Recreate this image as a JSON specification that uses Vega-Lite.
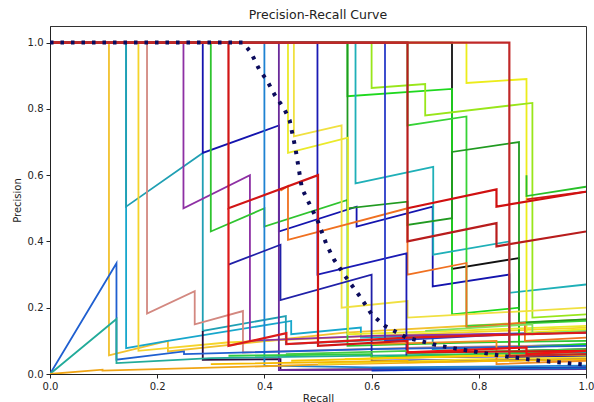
{
"$schema":"https://vega.github.io/schema/vega-lite/v6.json",
"width":536,"height":348,
"autosize":{"type":"none"},
"padding":{"left":50,"top":26,"right":8,"bottom":28},
"config":{"font":"DejaVu Sans","view":{"stroke":"#333","strokeWidth":1}},
"title":{"text":"Precision-Recall Curve","fontSize":12.5,"fontWeight":"normal","offset":5,"color":"#222"},
"data":{"values":[
{"s":"f01","i":0,"r":0,"p":1},{"s":"f01","i":1,"r":0.11,"p":1},{"s":"f01","i":2,"r":0.11,"p":0.056},{"s":"f01","i":3,"r":0.22,"p":0.1},{"s":"f01","i":4,"r":0.22,"p":0.068},{"s":"f01","i":5,"r":0.55,"p":0.125},{"s":"f01","i":6,"r":1,"p":0.165},
{"s":"f02","i":0,"r":0,"p":1},{"s":"f02","i":1,"r":0.142,"p":1},{"s":"f02","i":2,"r":0.142,"p":0.078},{"s":"f02","i":3,"r":0.22,"p":0.1},{"s":"f02","i":4,"r":0.45,"p":0.16},{"s":"f02","i":5,"r":0.45,"p":0.12},{"s":"f02","i":6,"r":0.58,"p":0.14},{"s":"f02","i":7,"r":0.58,"p":0.11},{"s":"f02","i":8,"r":1,"p":0.128},
{"s":"f03","i":0,"r":0,"p":1},{"s":"f03","i":1,"r":0.142,"p":1},{"s":"f03","i":2,"r":0.142,"p":0.505},{"s":"f03","i":3,"r":0.285,"p":0.667},{"s":"f03","i":4,"r":0.285,"p":0.13},{"s":"f03","i":5,"r":0.44,"p":0.175},{"s":"f03","i":6,"r":0.44,"p":0.09},{"s":"f03","i":7,"r":0.714,"p":0.11},{"s":"f03","i":8,"r":0.714,"p":0.075},{"s":"f03","i":9,"r":1,"p":0.09},
{"s":"f04","i":0,"r":0,"p":1},{"s":"f04","i":1,"r":0.165,"p":1},{"s":"f04","i":2,"r":0.165,"p":0.07},{"s":"f04","i":3,"r":0.33,"p":0.095},{"s":"f04","i":4,"r":0.6,"p":0.115},{"s":"f04","i":5,"r":1,"p":0.14},
{"s":"f05","i":0,"r":0,"p":1},{"s":"f05","i":1,"r":0.181,"p":1},{"s":"f05","i":2,"r":0.181,"p":0.182},{"s":"f05","i":3,"r":0.27,"p":0.25},{"s":"f05","i":4,"r":0.27,"p":0.15},{"s":"f05","i":5,"r":0.36,"p":0.19},{"s":"f05","i":6,"r":0.36,"p":0.065},{"s":"f05","i":7,"r":0.7,"p":0.08},{"s":"f05","i":8,"r":1,"p":0.088},
{"s":"f06","i":0,"r":0,"p":1},{"s":"f06","i":1,"r":0.249,"p":1},{"s":"f06","i":2,"r":0.249,"p":0.5},{"s":"f06","i":3,"r":0.373,"p":0.6},{"s":"f06","i":4,"r":0.373,"p":0.1},{"s":"f06","i":5,"r":0.6,"p":0.115},{"s":"f06","i":6,"r":1,"p":0.125},
{"s":"f07","i":0,"r":0.285,"p":0.13},{"s":"f07","i":1,"r":0.285,"p":0.043},{"s":"f07","i":2,"r":0.43,"p":0.045},{"s":"f07","i":3,"r":0.43,"p":0.012},{"s":"f07","i":4,"r":1,"p":0.02},
{"s":"f08","i":0,"r":0,"p":1},{"s":"f08","i":1,"r":0.285,"p":1},{"s":"f08","i":2,"r":0.285,"p":0.667},{"s":"f08","i":3,"r":0.427,"p":0.75},{"s":"f08","i":4,"r":0.427,"p":0.43},{"s":"f08","i":5,"r":0.572,"p":0.505},{"s":"f08","i":6,"r":0.572,"p":0.445},{"s":"f08","i":7,"r":0.714,"p":0.505},{"s":"f08","i":8,"r":0.714,"p":0.264},{"s":"f08","i":9,"r":0.857,"p":0.3},{"s":"f08","i":10,"r":0.857,"p":0.05},{"s":"f08","i":11,"r":1,"p":0.055},
{"s":"f09","i":0,"r":0,"p":1},{"s":"f09","i":1,"r":0.3,"p":1},{"s":"f09","i":2,"r":0.3,"p":0.43},{"s":"f09","i":3,"r":0.4,"p":0.5},{"s":"f09","i":4,"r":0.4,"p":0.445},{"s":"f09","i":5,"r":0.555,"p":0.525},{"s":"f09","i":6,"r":0.555,"p":0.085},{"s":"f09","i":7,"r":0.78,"p":0.095},{"s":"f09","i":8,"r":1,"p":0.1},
{"s":"f10","i":0,"r":0,"p":1},{"s":"f10","i":1,"r":0.75,"p":1},{"s":"f10","i":2,"r":0.75,"p":0.317},{"s":"f10","i":3,"r":0.875,"p":0.35},{"s":"f10","i":4,"r":0.875,"p":0.07},{"s":"f10","i":5,"r":1,"p":0.075},
{"s":"f11","i":0,"r":0,"p":1},{"s":"f11","i":1,"r":0.4,"p":1},{"s":"f11","i":2,"r":0.4,"p":0.025},{"s":"f11","i":3,"r":0.6,"p":0.02},{"s":"f11","i":4,"r":1,"p":0.025},
{"s":"f12","i":0,"r":0,"p":1},{"s":"f12","i":1,"r":0.427,"p":1},{"s":"f12","i":2,"r":0.427,"p":0.012},{"s":"f12","i":3,"r":1,"p":0.015},
{"s":"f18","i":0,"r":0,"p":1},{"s":"f18","i":1,"r":0.555,"p":1},{"s":"f18","i":2,"r":0.555,"p":0.838},{"s":"f18","i":3,"r":0.75,"p":0.86},{"s":"f18","i":4,"r":0.75,"p":0.18},{"s":"f18","i":5,"r":0.875,"p":0.2},{"s":"f18","i":6,"r":0.875,"p":0.08},{"s":"f18","i":7,"r":1,"p":0.09},
{"s":"f19","i":0,"r":0,"p":1},{"s":"f19","i":1,"r":0.57,"p":1},{"s":"f19","i":2,"r":0.57,"p":0.575},{"s":"f19","i":3,"r":0.715,"p":0.625},{"s":"f19","i":4,"r":0.715,"p":0.36},{"s":"f19","i":5,"r":0.857,"p":0.4},{"s":"f19","i":6,"r":0.857,"p":0.245},{"s":"f19","i":7,"r":1,"p":0.27},
{"s":"f20","i":0,"r":0,"p":1},{"s":"f20","i":1,"r":0.777,"p":1},{"s":"f20","i":2,"r":0.777,"p":0.878},{"s":"f20","i":3,"r":0.889,"p":0.89},{"s":"f20","i":4,"r":0.889,"p":0.125},{"s":"f20","i":5,"r":1,"p":0.135},
{"s":"f21","i":0,"r":0,"p":1},{"s":"f21","i":1,"r":0.6,"p":1},{"s":"f21","i":2,"r":0.6,"p":0.863},{"s":"f21","i":3,"r":0.7,"p":0.875},{"s":"f21","i":4,"r":0.7,"p":0.78},{"s":"f21","i":5,"r":0.9,"p":0.818},{"s":"f21","i":6,"r":0.9,"p":0.17},{"s":"f21","i":7,"r":1,"p":0.18},
{"s":"f22","i":0,"r":0,"p":1},{"s":"f22","i":1,"r":0.667,"p":1},{"s":"f22","i":2,"r":0.667,"p":0.75},{"s":"f22","i":3,"r":0.777,"p":0.777},{"s":"f22","i":4,"r":0.777,"p":0.145},{"s":"f22","i":5,"r":1,"p":0.16},
{"s":"f23","i":0,"r":0,"p":1},{"s":"f23","i":1,"r":0.555,"p":1},{"s":"f23","i":2,"r":0.555,"p":0.5},{"s":"f23","i":3,"r":0.667,"p":0.52},{"s":"f23","i":4,"r":0.667,"p":0.45},{"s":"f23","i":5,"r":0.75,"p":0.47},{"s":"f23","i":6,"r":0.75,"p":0.67},{"s":"f23","i":7,"r":0.875,"p":0.7},{"s":"f23","i":8,"r":0.875,"p":0.155},{"s":"f23","i":9,"r":1,"p":0.165},
{"s":"f24","i":0,"r":0.889,"p":0.6},{"s":"f24","i":1,"r":0.889,"p":0.537},{"s":"f24","i":2,"r":1,"p":0.565},
{"s":"f25","i":0,"r":0.889,"p":0.527},{"s":"f25","i":1,"r":1,"p":0.55},
{"s":"f26","i":0,"r":0,"p":1},{"s":"f26","i":1,"r":0.444,"p":1},{"s":"f26","i":2,"r":0.444,"p":0.667},{"s":"f26","i":3,"r":0.556,"p":0.713},{"s":"f26","i":4,"r":0.556,"p":0.12},{"s":"f26","i":5,"r":0.75,"p":0.13},{"s":"f26","i":6,"r":1,"p":0.145},
{"s":"f27","i":0,"r":0,"p":1},{"s":"f27","i":1,"r":0.455,"p":1},{"s":"f27","i":2,"r":0.455,"p":0.717},{"s":"f27","i":3,"r":0.544,"p":0.75},{"s":"f27","i":4,"r":0.544,"p":0.2},{"s":"f27","i":5,"r":0.667,"p":0.22},{"s":"f27","i":6,"r":0.667,"p":0.17},{"s":"f27","i":7,"r":1,"p":0.2},
{"s":"f28","i":0,"r":0.43,"p":0.553},{"s":"f28","i":1,"r":0.444,"p":0.567},{"s":"f28","i":2,"r":0.444,"p":0.405},{"s":"f28","i":3,"r":0.667,"p":0.5},{"s":"f28","i":4,"r":0.667,"p":0.3},{"s":"f28","i":5,"r":0.777,"p":0.335},{"s":"f28","i":6,"r":0.777,"p":0.14},{"s":"f28","i":7,"r":0.886,"p":0.155},{"s":"f28","i":8,"r":0.886,"p":0.1},{"s":"f28","i":9,"r":1,"p":0.11},
{"s":"f29","i":0,"r":0,"p":0},{"s":"f29","i":1,"r":0.124,"p":0.334},{"s":"f29","i":2,"r":0.124,"p":0.043},{"s":"f29","i":3,"r":0.25,"p":0.068},{"s":"f29","i":4,"r":0.25,"p":0.06},{"s":"f29","i":5,"r":0.6,"p":0.075},{"s":"f29","i":6,"r":1,"p":0.085},
{"s":"f30","i":0,"r":0,"p":0},{"s":"f30","i":1,"r":0.124,"p":0.166},{"s":"f30","i":2,"r":0.124,"p":0.033},{"s":"f30","i":3,"r":0.3,"p":0.048},{"s":"f30","i":4,"r":1,"p":0.065},
{"s":"f31","i":0,"r":0,"p":0},{"s":"f31","i":1,"r":0.098,"p":0.013},{"s":"f31","i":2,"r":0.098,"p":0.01},{"s":"f31","i":3,"r":0.5,"p":0.028},{"s":"f31","i":4,"r":1,"p":0.045},
{"s":"f32","i":0,"r":0,"p":1},{"s":"f32","i":1,"r":0.499,"p":1},{"s":"f32","i":2,"r":0.499,"p":0.3},{"s":"f32","i":3,"r":0.665,"p":0.364},{"s":"f32","i":4,"r":0.665,"p":0.05},{"s":"f32","i":5,"r":1,"p":0.055},
{"s":"f33","i":0,"r":0.333,"p":0.33},{"s":"f33","i":1,"r":0.43,"p":0.39},{"s":"f33","i":2,"r":0.43,"p":0.223},{"s":"f33","i":3,"r":0.6,"p":0.3},{"s":"f33","i":4,"r":0.6,"p":0.04},{"s":"f33","i":5,"r":1,"p":0.045},
{"s":"f34","i":0,"r":0,"p":1},{"s":"f34","i":1,"r":0.625,"p":1},{"s":"f34","i":2,"r":0.625,"p":0.1},{"s":"f34","i":3,"r":0.857,"p":0.12},{"s":"f34","i":4,"r":1,"p":0.125},
{"s":"f35","i":0,"r":0.333,"p":0.055},{"s":"f35","i":1,"r":0.6,"p":0.06},{"s":"f35","i":2,"r":0.6,"p":0.05},{"s":"f35","i":3,"r":1,"p":0.07},
{"s":"f36","i":0,"r":0.45,"p":0.04},{"s":"f36","i":1,"r":0.7,"p":0.05},{"s":"f36","i":2,"r":1,"p":0.06},
{"s":"f37","i":0,"r":0.5,"p":0.03},{"s":"f37","i":1,"r":0.8,"p":0.045},{"s":"f37","i":2,"r":1,"p":0.05},
{"s":"f38","i":0,"r":0.6,"p":0.09},{"s":"f38","i":1,"r":0.833,"p":0.1},{"s":"f38","i":2,"r":0.833,"p":0.03},{"s":"f38","i":3,"r":1,"p":0.04},
{"s":"f39","i":0,"r":0.7,"p":0.13},{"s":"f39","i":1,"r":0.9,"p":0.15},{"s":"f39","i":2,"r":0.9,"p":0.12},{"s":"f39","i":3,"r":1,"p":0.13},
{"s":"f41","i":0,"r":0.6,"p":0.01},{"s":"f41","i":1,"r":1,"p":0.02},
{"s":"f42","i":0,"r":0.3,"p":0.03},{"s":"f42","i":1,"r":0.667,"p":0.04},{"s":"f42","i":2,"r":0.667,"p":0.035},{"s":"f42","i":3,"r":1,"p":0.045},
{"s":"f43","i":0,"r":0.6,"p":0.017},{"s":"f43","i":1,"r":1,"p":0.017},
{"s":"f44","i":0,"r":0.44,"p":0.06},{"s":"f44","i":1,"r":0.667,"p":0.07},{"s":"f44","i":2,"r":0.667,"p":0.062},{"s":"f44","i":3,"r":1,"p":0.075},
{"s":"f45","i":0,"r":0.55,"p":0.045},{"s":"f45","i":1,"r":0.8,"p":0.055},{"s":"f45","i":2,"r":1,"p":0.058},
{"s":"f13","i":0,"r":0,"p":1},{"s":"f13","i":1,"r":0.333,"p":1},{"s":"f13","i":2,"r":0.333,"p":0.5},{"s":"f13","i":3,"r":0.5,"p":0.6},{"s":"f13","i":4,"r":0.5,"p":0.085},{"s":"f13","i":5,"r":0.667,"p":0.1},{"s":"f13","i":6,"r":0.667,"p":0.065},{"s":"f13","i":7,"r":1,"p":0.07},
{"s":"f14","i":0,"r":0.333,"p":0.5},{"s":"f14","i":1,"r":0.333,"p":0.085},{"s":"f14","i":2,"r":0.441,"p":0.123},{"s":"f14","i":3,"r":0.441,"p":0.09},{"s":"f14","i":4,"r":0.667,"p":0.11},{"s":"f14","i":5,"r":1,"p":0.125},
{"s":"f15","i":0,"r":0,"p":1},{"s":"f15","i":1,"r":0.667,"p":1},{"s":"f15","i":2,"r":0.667,"p":0.4},{"s":"f15","i":3,"r":0.833,"p":0.455},{"s":"f15","i":4,"r":0.833,"p":0.385},{"s":"f15","i":5,"r":1,"p":0.43},
{"s":"f16","i":0,"r":0,"p":1},{"s":"f16","i":1,"r":0.857,"p":1},{"s":"f16","i":2,"r":0.857,"p":0.055},{"s":"f16","i":3,"r":1,"p":0.06},
{"s":"f17","i":0,"r":0.667,"p":0.5},{"s":"f17","i":1,"r":0.833,"p":0.557},{"s":"f17","i":2,"r":0.833,"p":0.505},{"s":"f17","i":3,"r":1,"p":0.55},
{"s":"f40","i":0,"r":0.667,"p":0.065},{"s":"f40","i":1,"r":0.889,"p":0.08},{"s":"f40","i":2,"r":0.889,"p":0.06},{"s":"f40","i":3,"r":1,"p":0.07},
{"s":"avg","i":0,"r":0,"p":1},{"s":"avg","i":1,"r":0.36,"p":1},{"s":"avg","i":2,"r":0.375,"p":0.97},{"s":"avg","i":3,"r":0.39,"p":0.92},{"s":"avg","i":4,"r":0.405,"p":0.885},{"s":"avg","i":5,"r":0.42,"p":0.84},{"s":"avg","i":6,"r":0.437,"p":0.8},{"s":"avg","i":7,"r":0.447,"p":0.766},{"s":"avg","i":8,"r":0.458,"p":0.68},{"s":"avg","i":9,"r":0.47,"p":0.56},{"s":"avg","i":10,"r":0.488,"p":0.5},{"s":"avg","i":11,"r":0.5,"p":0.46},{"s":"avg","i":12,"r":0.516,"p":0.39},{"s":"avg","i":13,"r":0.53,"p":0.345},{"s":"avg","i":14,"r":0.553,"p":0.29},{"s":"avg","i":15,"r":0.58,"p":0.23},{"s":"avg","i":16,"r":0.6,"p":0.18},{"s":"avg","i":17,"r":0.625,"p":0.145},{"s":"avg","i":18,"r":0.665,"p":0.11},{"s":"avg","i":19,"r":0.727,"p":0.085},{"s":"avg","i":20,"r":0.79,"p":0.068},{"s":"avg","i":21,"r":0.852,"p":0.053},{"s":"avg","i":22,"r":0.914,"p":0.04},{"s":"avg","i":23,"r":1,"p":0.028}
]},
"encoding":{
"x":{"field":"r","type":"quantitative","scale":{"domain":[0,1],"nice":false,"zero":false},"axis":{"title":"Recall","values":[0,0.2,0.4,0.6,0.8,1],"format":".1f","grid":false,"labelFlush":false,"tickSize":4,"tickColor":"#222","domainColor":"#222","labelFontSize":10,"labelColor":"#222","titleFontSize":10.5,"titleFontWeight":"normal","titleColor":"#222","labelPadding":3,"titlePadding":2}},
"y":{"field":"p","type":"quantitative","scale":{"domain":[0,1.05],"nice":false,"zero":false},"axis":{"title":"Precision","values":[0,0.2,0.4,0.6,0.8,1],"format":".1f","grid":false,"labelFlush":false,"tickSize":4,"tickColor":"#222","domainColor":"#222","labelFontSize":10,"labelColor":"#222","titleFontSize":10,"titleFontWeight":"normal","titleColor":"#222","labelPadding":3,"titlePadding":5}},
"order":{"field":"i","type":"quantitative"}
},
"layer":[
{"transform":[{"filter":{"not":{"field":"s","oneOf":["f13","f14","f15","f16","f17","f40","avg"]}}}],
 "mark":{"type":"line","strokeWidth":1.8,"clip":true},
 "encoding":{"color":{"field":"s","type":"nominal","legend":null,"scale":{
 "domain":["f01","f02","f03","f04","f05","f06","f07","f08","f09","f10","f11","f12","f13","f14","f15","f16","f17","f18","f19","f20","f21","f22","f23","f24","f25","f26","f27","f28","f29","f30","f31","f32","f33","f34","f35","f36","f37","f38","f39","f40","f41","f42","f43","f44","f45"],
 "range":["#f2c12e","#17a7cc","#1f9fb3","#f5d42a","#d38880","#8e30a4","#2b0a3d","#1414ae","#2fc42f","#111111","#1e82d2","#6a2a9a","#d11515","#dd1a1a","#b81c1c","#c02828","#d01010","#1ed81e","#1fb0b8","#ecec1a","#99e61a","#36d336","#209a20","#28c028","#d01818","#eaea2a","#f0e040","#f07020","#1f5fd0","#22ab9a","#f0a515","#1a1ab4","#2020a8","#2a3cc8","#2ecc40","#f5c400","#f5e030","#f08a20","#80e060","#ee1111","#1030c0","#f5b800","#1565c0","#44cc44","#ffd000"]}}}},
{"transform":[{"filter":{"field":"s","oneOf":["f13","f14","f15","f16","f17","f40"]}}],
 "mark":{"type":"line","strokeWidth":2.2,"clip":true},
 "encoding":{"color":{"field":"s","type":"nominal","legend":null}}},
{"transform":[{"filter":{"field":"s","equal":"avg"}}],
 "mark":{"type":"line","strokeWidth":4,"strokeDash":[3.5,7],"color":"#0b0b5c","clip":true}}
]
}
